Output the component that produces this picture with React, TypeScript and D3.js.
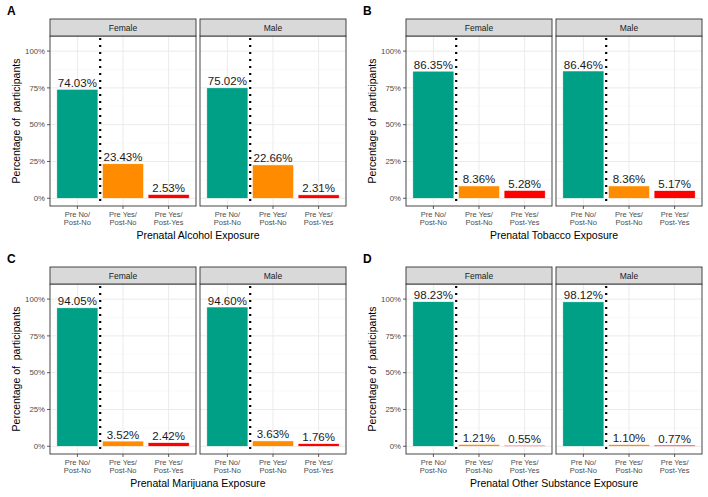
import { useEffect } from "react"
import * as d3 from "d3"

const categories = ["Pre No/|Post-No", "Pre Yes/|Post-No", "Pre Yes/|Post-Yes"]
const facets = ["Female", "Male"]
const yTicks = [0, 0.25, 0.5, 0.75, 1]
const yMinor = [0.125, 0.375, 0.625, 0.875]

const alcoholFemale = [74.03, 23.43, 2.53]
const alcoholMale = [75.02, 22.66, 2.31]
const tobaccoFemale = [86.35, 8.36, 5.28]
const tobaccoMale = [86.46, 8.36, 5.17]
const marijuanaFemale = [94.05, 3.52, 2.42]
const marijuanaMale = [94.6, 3.63, 1.76]
const otherFemale = [98.23, 1.21, 0.55]
const otherMale = [98.12, 1.1, 0.77]

const COLORS = ["#00a087", "#ff8c00", "#ff0000"]
const FONT = "'Liberation Sans', Arial, Helvetica, sans-serif"

const panels = [
  { letter: "A", title: "Prenatal Alcohol Exposure", values: [alcoholFemale, alcoholMale], ox: 0, oy: 0 },
  { letter: "B", title: "Prenatal Tobacco Exposure", values: [tobaccoFemale, tobaccoMale], ox: 356, oy: 0 },
  { letter: "C", title: "Prenatal Marijuana Exposure", values: [marijuanaFemale, marijuanaMale], ox: 0, oy: 248 },
  { letter: "D", title: "Prenatal Other Substance Exposure", values: [otherFemale, otherMale], ox: 356, oy: 248 },
]

// facet geometry (relative to each sub-figure)
const STRIP_TOP = 19
const PANEL_TOP = 36
const PANEL_BOTTOM = 206
const FACET_X = [50, 200]
const FACET_W = 146

const y = d3.scaleLinear().domain([-0.0525, 1.1025]).range([PANEL_BOTTOM, PANEL_TOP])

function Facet({ name, vals, x0, first }: { name: string; vals: number[]; x0: number; first: boolean }) {
  const x = d3.scalePoint<string>().domain(categories).range([x0 + 0.6 * (FACET_W / 3.2), x0 + 2.6 * (FACET_W / 3.2)])
  const step = x.step()
  const bw = step * 0.9
  const sepX = (x(categories[0])! + x(categories[1])!) / 2
  return (
    <g>
      <rect x={x0} y={PANEL_TOP} width={FACET_W} height={PANEL_BOTTOM - PANEL_TOP} fill="#fff" />
      {yMinor.map((t) => (
        <line key={"m" + t} x1={x0} x2={x0 + FACET_W} y1={y(t)} y2={y(t)} stroke="#f2f2f2" strokeWidth={0.5} />
      ))}
      {yTicks.map((t) => (
        <line key={"g" + t} x1={x0} x2={x0 + FACET_W} y1={y(t)} y2={y(t)} stroke="#ebebeb" strokeWidth={1} />
      ))}
      {categories.map((c) => (
        <line key={"gx" + c} x1={x(c)} x2={x(c)} y1={PANEL_TOP} y2={PANEL_BOTTOM} stroke="#ebebeb" strokeWidth={1} />
      ))}
      {vals.map((v, i) => (
        <rect
          key={"b" + i}
          x={x(categories[i])! - bw / 2}
          y={y(v / 100)}
          width={bw}
          height={y(0) - y(v / 100)}
          fill={COLORS[i]}
          stroke="#fff"
          strokeWidth={0.5}
        />
      ))}
      {vals.map((v, i) => (
        <text
          key={"l" + i}
          x={x(categories[i])}
          y={y(v / 100) - 2.5}
          textAnchor="middle"
          fontSize={11.5}
          fill="#1a1a1a"
        >
          {v.toFixed(2) + "%"}
        </text>
      ))}
      <line
        x1={sepX}
        x2={sepX}
        y1={PANEL_TOP + 2}
        y2={PANEL_BOTTOM}
        stroke="#000"
        strokeWidth={2.2}
        strokeDasharray="2 5"
      />
      <rect x={x0} y={PANEL_TOP} width={FACET_W} height={PANEL_BOTTOM - PANEL_TOP} fill="none" stroke="#333" strokeWidth={0.9} />
      <rect x={x0} y={STRIP_TOP} width={FACET_W} height={PANEL_TOP - STRIP_TOP} fill="#d9d9d9" stroke="#333" strokeWidth={0.9} />
      <text x={x0 + FACET_W / 2} y={(STRIP_TOP + PANEL_TOP) / 2 + 3} textAnchor="middle" fontSize={8.5} fill="#1a1a1a">
        {name}
      </text>
      {categories.map((c) => (
        <g key={"t" + c}>
          <line x1={x(c)} x2={x(c)} y1={PANEL_BOTTOM} y2={PANEL_BOTTOM + 3} stroke="#333" strokeWidth={0.8} />
          {c.split("|").map((ln, k) => (
            <text key={k} x={x(c)} y={PANEL_BOTTOM + 10.5 + k * 8.5} textAnchor="middle" fontSize={7.5} fill="#4d4d4d">
              {ln}
            </text>
          ))}
        </g>
      ))}
      {first &&
        yTicks.map((t) => (
          <g key={"yt" + t}>
            <line x1={x0 - 3} x2={x0} y1={y(t)} y2={y(t)} stroke="#333" strokeWidth={0.8} />
            <text x={x0 - 5} y={y(t) + 2.7} textAnchor="end" fontSize={7.8} fill="#4d4d4d">
              {d3.format(".0%")(t)}
            </text>
          </g>
        ))}
    </g>
  )
}

function SubFigure({ p }: { p: (typeof panels)[number] }) {
  return (
    <g transform={`translate(${p.ox},${p.oy})`}>
      <text x={7} y={15} fontSize={12} fontWeight="bold" fill="#000">
        {p.letter}
      </text>
      {facets.map((f, i) => (
        <Facet key={f} name={f} vals={p.values[i]} x0={FACET_X[i]} first={i === 0} />
      ))}
      <text x={(FACET_X[0] + FACET_X[1] + FACET_W) / 2} y={239} textAnchor="middle" fontSize={10.5} fill="#000">
        {p.title}
      </text>
      <text
        transform={`translate(20,${(PANEL_TOP + PANEL_BOTTOM) / 2}) rotate(-90)`}
        textAnchor="middle"
        fontSize={10.5}
        fill="#000"
        style={{ whiteSpace: "pre" }}
      >
        {"Percentage of  participants"}
      </text>
    </g>
  )
}

export default function App() {
  useEffect(() => {
    document.body.style.margin = "0"
  }, [])
  return (
    <svg width={708} height={497} fontFamily={FONT} style={{ display: "block", background: "#fff" }}>
      <rect width={708} height={497} fill="#fff" />
      {panels.map((p) => (
        <SubFigure key={p.letter} p={p} />
      ))}
    </svg>
  )
}
